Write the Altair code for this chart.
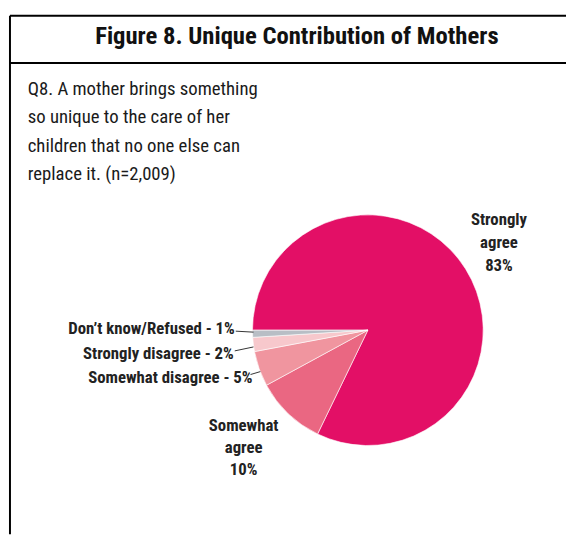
import math
import altair as alt
import pandas as pd

# ---- data ----
categories = ["Strongly agree", "Somewhat agree", "Somewhat disagree",
              "Strongly disagree", "Don't know/Refused"]
percents = [83, 10, 5, 2, 1]
colors = ["#E30F66", "#EA6782", "#F0959F", "#F7C8CC", "#B8BEC5"]

title_text = "Figure 8. Unique Contribution of Mothers"
question_lines = ["Q8. A mother brings something",
                  "so unique to the care of her",
                  "children that no one else can",
                  "replace it. (n=2,009)"]

FONT = "Roboto Condensed"

W, H = 566, 530
CX, CY, R = 365, 323, 117

pie_df = pd.DataFrame({"category": categories, "pct": percents,
                       "order": list(range(len(categories)))})

base_start = 1.5 * math.pi
pie = alt.Chart(pie_df).mark_arc(outerRadius=R, stroke="white", strokeWidth=0.6).encode(
    theta=alt.Theta("pct:Q", stack=True,
                    scale=alt.Scale(range=[base_start, base_start + 2 * math.pi])),
    order=alt.Order("order:Q"),
    color=alt.Color("category:N", scale=alt.Scale(domain=categories, range=colors), legend=None),
    x=alt.value(CX), y=alt.value(CY),
)

# ---- frame ----
frame_h = alt.Chart(pd.DataFrame({"y": [4, 52]})).mark_rule(color="black", strokeWidth=2).encode(
    x=alt.value(2), x2=alt.value(W), y=alt.Y("y:Q", scale=None))
frame_v = alt.Chart(pd.DataFrame({"x": [2]})).mark_rule(color="black", strokeWidth=2).encode(
    x=alt.X("x:Q", scale=None), y=alt.value(4), y2=alt.value(H))

title = alt.Chart(pd.DataFrame({"t": [title_text]})).mark_text(
    font=FONT, fontSize=25, fontWeight="bold", align="center", baseline="middle", color="#111"
).encode(text="t:N", x=alt.value(293), y=alt.value(25))

question = alt.Chart(alt.Data(values=[{"t": question_lines}])).mark_text(
    font=FONT, fontSize=19, align="left", baseline="middle", lineHeight=29, color="#1a1a1a"
).encode(text="t:N", x=alt.value(20), y=alt.value(78))

# ---- slice labels (text from data, placement is layout) ----
label_layout = {
    "Strongly agree": dict(x=498, y=211, align="center", multiline=True, lh=23.5),
    "Somewhat agree": dict(x=239, y=420, align="center", multiline=True, lh=22.5),
    "Somewhat disagree": dict(x=248, y=372, align="right"),
    "Strongly disagree": dict(x=229, y=347, align="right"),
    "Don't know/Refused": dict(x=230, y=322, align="right"),
}
label_layers = []
for cat, p in zip(categories, percents):
    L = label_layout[cat]
    if L.get("multiline"):
        words = cat.split(" ")
        txt = [words[0], " ".join(words[1:]), f"{p}%"]
    else:
        txt = f"{cat} - {p}%".replace("'", "\u2019")
    label_layers.append(
        alt.Chart(alt.Data(values=[{"t": txt}])).mark_text(
            font=FONT, fontSize=17, fontWeight="bold", align=L["align"], baseline="middle",
            lineHeight=L.get("lh", 20), color="#222"
        ).encode(text="t:N", x=alt.value(L["x"]), y=alt.value(L["y"]))
    )

# leader lines (layout)
leaders = pd.DataFrame({
    "x": [231, 230, 246], "y": [324, 344, 368],
    "x2": [249, 249, 256], "y2": [325, 340, 365],
})
leader = alt.Chart(leaders).mark_rule(color="#333", strokeWidth=1).encode(
    x=alt.X("x:Q", scale=None), y=alt.Y("y:Q", scale=None),
    x2="x2:Q", y2="y2:Q")

chart = alt.layer(frame_h, frame_v, title, question, pie, leader, *label_layers).properties(
    width=W, height=H, autosize=alt.AutoSizeParams(type="none"), padding=0,
    background="white"
).configure_view(stroke=None)

chart.save("out.html", embed_options={"renderer": "svg", "actions": False})
